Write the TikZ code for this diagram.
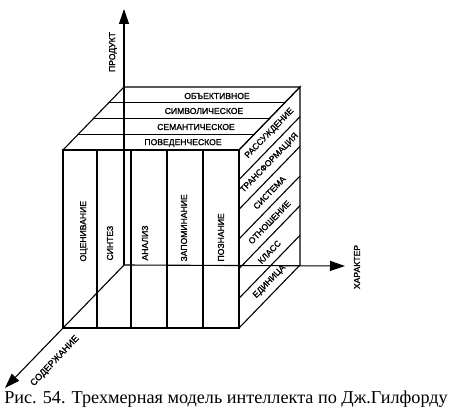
\documentclass[tikz,border=0pt]{standalone}
\usepackage{fontspec}
\setmainfont{Liberation Serif}
\newfontfamily\lblfont[FakeBold=1.3]{Liberation Sans}
\usetikzlibrary{arrows.meta,calc}
\begin{document}
\begin{tikzpicture}[x=1pt,y=-1pt,line width=1.1pt,
  lbl/.style={font=\lblfont\fontsize{8.6}{9}\selectfont,inner sep=0pt},
  axisarrow/.style={-{Triangle[length=15pt,width=10pt]}},
  edge/.style={line width=1.1pt}]
\useasboundingbox (0,0) rectangle (454,411);
% cube corners
\coordinate (O) at (124,265);
\coordinate (FTL) at (63,150);
\coordinate (FTR) at (239,150);
\coordinate (FBL) at (63,328);
\coordinate (FBR) at (239,328);
\coordinate (BTL) at (124,87);
\coordinate (BTR) at (300,87);
\coordinate (BBR) at (300,265);
\coordinate (Ptip) at (124,9);
\coordinate (Xtip) at (345,266);
\coordinate (Ztip) at (5,388);
% top face
\draw[edge] (FTL) -- (BTL) -- (BTR) -- (FTR);
\foreach \i in {1,2,3}{
  \draw[edge] ($(FTL)!\i/4!(BTL)$) -- ($(FTR)!\i/4!(BTR)$);
}
% right face
\draw[edge] (FTR) -- (BTR) -- (BBR) -- (FBR);
\foreach \i in {1,...,5}{
  \draw[edge] ($(FTR)!\i/6!(FBR)$) -- ($(BTR)!\i/6!(BBR)$);
}
% front face
\draw[edge] (FTL) rectangle (FBR);
\foreach \x in {97,131,167,203}{
  \draw[edge] (\x,150) -- (\x,328);
}
% axes
\draw[edge,axisarrow] (O) -- (Ptip);
\draw[edge,axisarrow] (O) -- (Xtip);
\draw[edge,axisarrow] (O) -- (Ztip);
% axis labels
\node[lbl,rotate=90] (lp) at (113,52) {ПРОДУКТ};
\node[lbl,rotate=90] (lx) at (357,267) {ХАРАКТЕР};
\node[lbl,rotate=46.5,font=\lblfont\fontsize{9.2}{10}\selectfont] (lz) at (55,361) {СОДЕРЖАНИЕ};
% top face labels
\node[lbl] (t1) at (217,96) {ОБЪЕКТИВНОЕ};
\node[lbl] (t2) at (204,111) {СИМВОЛИЧЕСКОЕ};
\node[lbl] (t3) at (196,127) {СЕМАНТИЧЕСКОЕ};
\node[lbl] (t4) at (183,143) {ПОВЕДЕНЧЕСКОЕ};
% front face labels
\node[lbl,rotate=90,anchor=west] (f1) at (84,262) {ОЦЕНИВАНИЕ};
\node[lbl,rotate=90,anchor=west] (f2) at (110,261) {СИНТЕЗ};
\node[lbl,rotate=90,anchor=west] (f3) at (145,261) {АНАЛИЗ};
\node[lbl,rotate=90,anchor=west] (f4) at (184,262) {ЗАПОМИНАНИЕ};
\node[lbl,rotate=90,anchor=west] (f5) at (221,262) {ПОЗНАНИЕ};
% right face labels
\node[lbl,rotate=46] (r1) at (269.5,133.3) {РАССУЖДЕНИЕ};
\node[lbl,rotate=46] (r2) at (269.5,163) {ТРАНСФОРМАЦИЯ};
\node[lbl,rotate=46] (r3) at (269.5,192.7) {СИСТЕМА};
\node[lbl,rotate=46] (r4) at (269.5,222.3) {ОТНОШЕНИЕ};
\node[lbl,rotate=46] (r5) at (269.5,252) {КЛАСС};
\node[lbl,rotate=46] (r6) at (269.5,281.7) {ЕДИНИЦА};
% caption
\node[anchor=base,inner sep=0pt,font=\fontsize{18.2}{20}\selectfont] (cap) at (226,403) {Рис. 54. Трехмерная модель интеллекта по Дж.Гилфорду};
\end{tikzpicture}
\end{document}
